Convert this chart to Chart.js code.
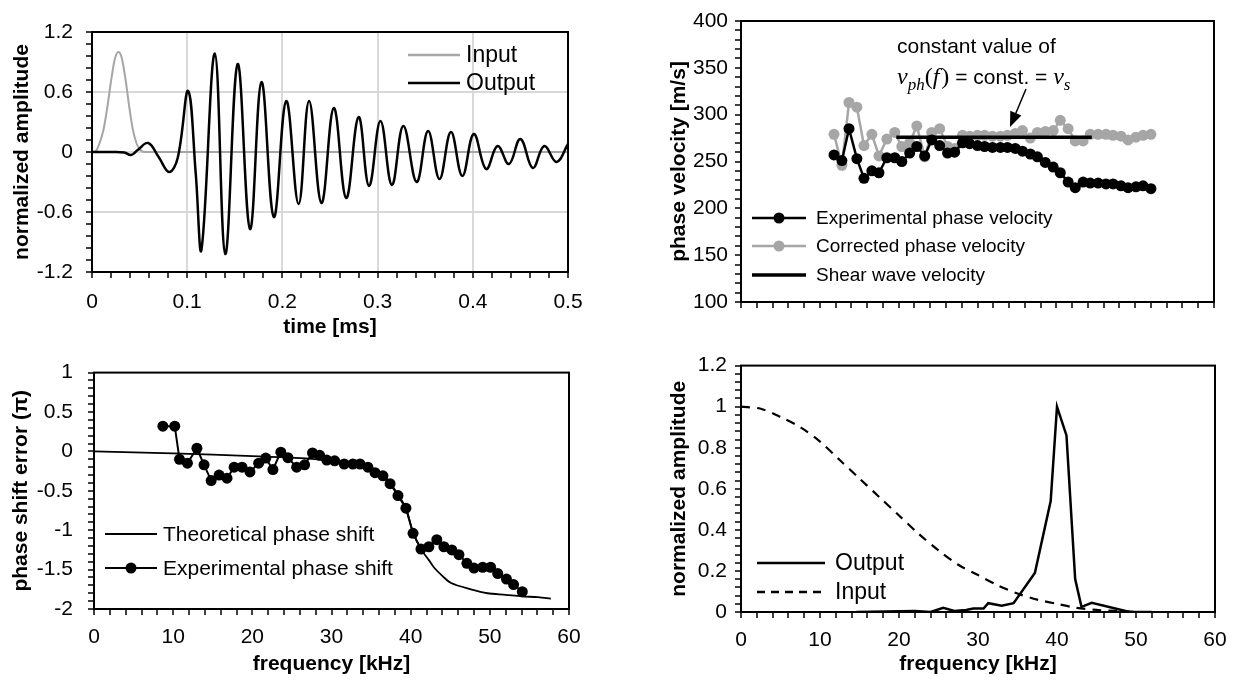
<!DOCTYPE html>
<html>
<head>
<meta charset="UTF-8">
<title>Phase velocity analysis</title>
<style>
  html, body { margin: 0; padding: 0; background: #fff; }
  body { width: 1238px; height: 684px; position: relative; overflow: hidden; }
  canvas { position: absolute; }
</style>
</head>
<body>
<canvas id="c1" width="610" height="345" style="left:0;top:0"></canvas>
<canvas id="c2" width="618" height="345" style="left:620px;top:0"></canvas>
<canvas id="c3" width="610" height="339" style="left:0;top:345px"></canvas>
<canvas id="c4" width="618" height="339" style="left:620px;top:345px"></canvas>

<script src="https://cdn.jsdelivr.net/npm/chart.js@4.4.0/dist/chart.umd.min.js"></script>
<script>
// ---- top left: time signals ----
const timeIn = [0, 0.004, 0.008, 0.012, 0.016, 0.020, 0.024, 0.0275, 0.031, 0.035, 0.039, 0.043, 0.047, 0.051, 0.055, 0.5];
const ampIn = [0, 0.01, 0.09, 0.22, 0.44, 0.71, 0.93, 1.0, 0.95, 0.74, 0.46, 0.22, 0.08, 0.02, 0, 0];
const timeOut = [0, 0.02, 0.034, 0.041, 0.048, 0.059, 0.07, 0.081, 0.09,
  0.101, 0.109, 0.115, 0.129, 0.140, 0.153, 0.166, 0.178, 0.191, 0.204, 0.217, 0.228,
  0.241, 0.254, 0.267, 0.280, 0.291, 0.303, 0.315, 0.327, 0.341, 0.353, 0.365, 0.377,
  0.389, 0.401, 0.414, 0.426, 0.438, 0.450, 0.463, 0.475, 0.488, 0.500];
const ampOut = [0, 0, -0.005, -0.03, 0.02, 0.09, -0.05, -0.20, -0.06,
  0.61, -0.22, -0.975, 0.985, -1.02, 0.88, -0.77, 0.70, -0.65, 0.51, -0.52, 0.51,
  -0.51, 0.44, -0.46, 0.35, -0.34, 0.31, -0.33, 0.26, -0.30, 0.21, -0.27, 0.20,
  -0.24, 0.18, -0.17, 0.06, -0.12, 0.13, -0.16, 0.06, -0.10, 0.08];

// ---- top right: phase velocity ----
const freqVel = [11.8, 12.8, 13.7, 14.7, 15.6, 16.6, 17.5, 18.5, 19.5, 20.4, 21.4, 22.3, 23.3, 24.2,
  25.2, 26.2, 27.1, 28.1, 29.0, 30.0, 30.9, 31.9, 32.9, 33.8, 34.8, 35.7, 36.7, 37.6, 38.6,
  39.6, 40.5, 41.5, 42.4, 43.4, 44.3, 45.3, 46.3, 47.2, 48.2, 49.1, 50.1, 51.0, 52.0];
const velExperimental = [257, 251, 285, 253, 232, 240, 238, 254, 254, 250, 259, 266, 256, 273,
  267, 259, 260, 270, 269, 267, 266, 265, 265, 265, 264, 261, 258, 255, 249,
  244, 238, 228, 222, 228, 227, 227, 226, 226, 224, 222, 223, 224, 221];
const velCorrected = [279, 246, 313, 308, 267, 279, 256, 274, 281, 266, 270, 288, 255, 281,
  285, 266, 264, 278, 277, 278, 278, 277, 277, 278, 280, 283, 275, 281, 282,
  283, 294, 285, 272, 272, 279, 279, 279, 278, 277, 273, 276, 278, 279];
const freqShear = [19.7, 44.5];
const velShear = [276, 276];

// ---- bottom left: phase shift error ----
const freqTheory = [0, 10, 20, 25, 29.5, 31.6, 33.6, 34.6, 35.5, 36.5, 37.4, 38.4, 39.4, 40.3,
  41.3, 42.3, 43.0, 44.0, 45.1, 47.6, 49.7, 52.0, 54.0, 56.1, 57.7];
const phaseTheory = [0, -0.025, -0.06, -0.08, -0.11, -0.15, -0.16, -0.19, -0.26, -0.30, -0.40, -0.55, -0.72, -1.03,
  -1.24, -1.38, -1.48, -1.58, -1.67, -1.75, -1.80, -1.82, -1.84, -1.85, -1.87];
const freqPhaseExp = [8.7, 10.2, 10.8, 11.8, 13.0, 13.9, 14.8, 15.8, 16.8, 17.7, 18.7, 19.7, 20.8, 21.7,
  22.6, 23.6, 24.5, 25.6, 26.6, 27.6, 28.5, 29.4, 30.4, 31.6, 32.7, 33.6, 34.6, 35.5, 36.5,
  37.4, 38.4, 39.4, 40.3, 41.3, 42.3, 43.3, 44.2, 45.2, 46.1, 47.1, 48.0, 49.1, 50.1, 51.0,
  52.1, 53.0, 54.1];
const phaseExp = [0.32, 0.32, -0.10, -0.15, 0.04, -0.17, -0.37, -0.30, -0.34, -0.20, -0.20, -0.26, -0.15, -0.085,
  -0.23, -0.01, -0.08, -0.20, -0.17, -0.02, -0.05, -0.11, -0.12, -0.16, -0.16, -0.16, -0.20, -0.27, -0.31,
  -0.41, -0.56, -0.72, -1.04, -1.24, -1.21, -1.12, -1.21, -1.25, -1.31, -1.42, -1.48, -1.47, -1.47, -1.55,
  -1.62, -1.69, -1.78];

// ---- bottom right: amplitude spectra ----
const freqOutSpec = [14.6, 22.0, 24.0, 25.6, 27.0, 28.5, 29.4, 30.7, 31.3, 33.0, 34.5, 37.2, 39.2, 40.0,
  41.2, 42.3, 43.1, 44.4, 49.2, 52.0];
const ampOutSpec = [0, 0.005, 0, 0.02, 0.005, 0.01, 0.017, 0.017, 0.043, 0.03, 0.043, 0.19, 0.54, 1.0,
  0.86, 0.16, 0.025, 0.045, 0, 0];
const freqInSpec = [0, 2.5, 5, 7.5, 10, 12.5, 15, 17.5, 20, 22.5, 25, 27.5, 30, 32.5, 35, 37.5, 40,
  42.5, 45, 47.5, 50, 52];
const ampInSpec = [1.0, 0.99, 0.95, 0.90, 0.83, 0.74, 0.65, 0.56, 0.47, 0.38, 0.30, 0.23, 0.18, 0.13,
  0.09, 0.06, 0.04, 0.02, 0.01, 0.005, 0, 0];

const FONT = "'Liberation Sans', Arial, sans-serif";
const GREY = '#a6a6a6';

const pts = (xs, ys) => xs.map((x, i) => ({ x: x, y: ys[i] }));

function isMajor(v, step) {
  const r = v / step;
  return Math.abs(r - Math.round(r)) < 1e-6;
}

// linear axis with minor ticks, labels only on the major ones
function makeAxis(c) {
  const horizontal = c.pos === 'bottom';
  return {
    type: 'linear',
    position: c.pos,
    min: c.min,
    max: c.max,
    afterFit(scale) {
      if (horizontal) scale.height = c.size; else scale.width = c.size;
    },
    border: { color: '#000', width: 2 },
    grid: {
      drawOnChartArea: !!c.grid,
      color: ctx => (c.grid && ctx.tick && isMajor(ctx.tick.value, c.major)) ? '#d9d9d9' : 'rgba(0,0,0,0)',
      lineWidth: 2,
      tickLength: 6,
      tickColor: '#000',
      tickWidth: 1.5
    },
    ticks: {
      stepSize: c.minor,
      autoSkip: false,
      maxRotation: 0,
      minRotation: 0,
      padding: c.tickPad,
      color: '#000',
      font: { family: FONT, size: 21 },
      callback: v => (c.noLabels || !isMajor(v, c.major)) ? '' : String(v)
    },
    title: {
      display: !!c.title,
      text: c.title,
      color: '#000',
      font: { family: FONT, size: 21, weight: 'bold' },
      padding: c.titlePad || 0
    }
  };
}

const framePlugin = {
  id: 'frame',
  afterDatasetsDraw(chart) {
    const { ctx, chartArea: a } = chart;
    ctx.save();
    ctx.strokeStyle = '#000';
    ctx.lineWidth = 2;
    ctx.strokeRect(a.left, a.top, a.right - a.left, a.bottom - a.top);
    ctx.restore();
  }
};

// legend drawn inside the plot, items given in page coordinates
function legendPlugin(items, size, offX, offY) {
  return {
    id: 'insideLegend',
    afterDraw(chart) {
      const ctx = chart.ctx;
      ctx.save();
      items.forEach(it => {
        const y = it.y - offY;
        ctx.strokeStyle = it.color;
        ctx.lineWidth = it.lw;
        ctx.setLineDash(it.dash || []);
        ctx.beginPath();
        ctx.moveTo(it.x1 - offX, y);
        ctx.lineTo(it.x2 - offX, y);
        ctx.stroke();
        ctx.setLineDash([]);
        if (it.marker) {
          ctx.fillStyle = it.color;
          ctx.beginPath();
          ctx.arc((it.x1 + it.x2) / 2 - offX, y, it.marker, 0, Math.PI * 2);
          ctx.fill();
        }
        ctx.fillStyle = '#000';
        ctx.font = size + 'px ' + FONT;
        ctx.textBaseline = 'middle';
        ctx.fillText(it.text, it.tx - offX, y + 1);
      });
      ctx.restore();
    }
  };
}

function baseOptions(padding, scales, extra) {
  return {
    type: 'line',
    options: {
      responsive: false,
      animation: false,
      layout: { padding: padding },
      plugins: { legend: { display: false }, tooltip: { enabled: false } },
      scales: scales
    },
    plugins: [framePlugin].concat(extra)
  };
}

// ---------- top left ----------
let cfg1 = baseOptions({ left: 0, top: 32, right: 42, bottom: 3 }, {
  x: makeAxis({ pos: 'bottom', min: 0, max: 0.5, minor: 0.02, major: 0.1, size: 70, tickPad: 12,
    grid: true, title: 'time [ms]', titlePad: { bottom: 2 } }),
  y: makeAxis({ pos: 'left', min: -1.2, max: 1.2, minor: 0.12, major: 0.6, size: 92, tickPad: 13,
    grid: true, title: 'normalized amplitude', titlePad: { top: 10 } })
}, [legendPlugin([
  { x1: 408, x2: 460, y: 55, color: GREY, lw: 2.5, tx: 466, text: 'Input' },
  { x1: 408, x2: 460, y: 83, color: '#000', lw: 2.5, tx: 466, text: 'Output' }
], 23, 0, 0)]);
cfg1.data = {
  datasets: [
    { data: pts(timeOut, ampOut), borderColor: '#000', borderWidth: 2.5, pointRadius: 0, tension: 0.4 },
    { data: pts(timeIn, ampIn), borderColor: GREY, borderWidth: 2, pointRadius: 0, cubicInterpolationMode: 'monotone' }
  ]
};
new Chart(document.getElementById('c1'), cfg1);

// ---------- top right ----------
const annotationPlugin = {
  id: 'annot',
  afterDraw(chart) {
    const ctx = chart.ctx;
    const ox = 620;
    ctx.save();
    ctx.fillStyle = '#000';
    ctx.textBaseline = 'alphabetic';
    ctx.font = '21px ' + FONT;
    ctx.fillText('constant value of', 897 - ox, 53);

    // v_ph(f) = const. = v_s
    let x = 897 - ox;
    const base = 84;
    const serifIt = "italic 24px 'Liberation Serif', serif";
    const serifSub = "italic 17px 'Liberation Serif', serif";
    const serif = "24px 'Liberation Serif', serif";
    const parts = [
      { t: 'v', f: serifIt, dy: 0 },
      { t: 'ph', f: serifSub, dy: 6 },
      { t: '(', f: serif, dy: 0 },
      { t: 'f', f: serifIt, dy: 0 },
      { t: ')', f: serif, dy: 0 },
      { t: ' = const. = ', f: '21px ' + FONT, dy: 0 },
      { t: 'v', f: serifIt, dy: 0 },
      { t: 's', f: serifSub, dy: 6 }
    ];
    parts.forEach(p => {
      ctx.font = p.f;
      ctx.fillText(p.t, x, base + p.dy);
      x += ctx.measureText(p.t).width + (p.t === 'f' ? 2 : 0);
    });

    // arrow
    const x0 = 1026 - ox, y0 = 89, x1 = 1010 - ox, y1 = 127;
    const ang = Math.atan2(y1 - y0, x1 - x0);
    ctx.strokeStyle = '#000';
    ctx.lineWidth = 1.5;
    ctx.beginPath();
    ctx.moveTo(x0, y0);
    ctx.lineTo(x1 - 12 * Math.cos(ang), y1 - 12 * Math.sin(ang));
    ctx.stroke();
    ctx.beginPath();
    ctx.moveTo(x1, y1);
    ctx.lineTo(x1 - 15 * Math.cos(ang) + 6 * Math.sin(ang), y1 - 15 * Math.sin(ang) - 6 * Math.cos(ang));
    ctx.lineTo(x1 - 15 * Math.cos(ang) - 6 * Math.sin(ang), y1 - 15 * Math.sin(ang) + 6 * Math.cos(ang));
    ctx.closePath();
    ctx.fill();
    ctx.restore();
  }
};

let cfg2 = baseOptions({ left: 0, top: 21, right: 24, bottom: 3 }, {
  x: makeAxis({ pos: 'bottom', min: 0, max: 60, minor: 2, major: 10, size: 40, tickPad: 4, noLabels: true }),
  y: makeAxis({ pos: 'left', min: 100, max: 400, minor: 10, major: 50, size: 121, tickPad: 7,
    title: 'phase velocity [m/s]', titlePad: { top: 47 } })
}, [annotationPlugin, legendPlugin([
  { x1: 752, x2: 806, y: 218, color: '#000', lw: 2.5, marker: 5.5, tx: 816, text: 'Experimental phase velocity' },
  { x1: 752, x2: 806, y: 246, color: GREY, lw: 2.5, marker: 5.5, tx: 816, text: 'Corrected phase velocity' },
  { x1: 752, x2: 806, y: 275, color: '#000', lw: 3.5, tx: 816, text: 'Shear wave velocity' }
], 19, 620, 0)]);
cfg2.data = {
  datasets: [
    { data: pts(freqShear, velShear), borderColor: '#000', borderWidth: 3.5, pointRadius: 0 },
    { data: pts(freqVel, velExperimental), borderColor: '#000', backgroundColor: '#000', borderWidth: 2.5,
      pointRadius: 5.5, pointBorderWidth: 0 },
    { data: pts(freqVel, velCorrected), borderColor: GREY, backgroundColor: GREY, borderWidth: 2.5,
      pointRadius: 5.5, pointBorderWidth: 0 }
  ]
};
new Chart(document.getElementById('c2'), cfg2);

// ---------- bottom left ----------
let cfg3 = baseOptions({ left: 0, top: 7, right: 41, bottom: 7 }, {
  x: makeAxis({ pos: 'bottom', min: 0, max: 60, minor: 2, major: 10, size: 68, tickPad: 10,
    title: 'frequency [kHz]', titlePad: { bottom: 0 } }),
  y: makeAxis({ pos: 'left', min: -2, max: 1, minor: 0.1, major: 0.5, size: 94, tickPad: 15,
    title: 'phase shift error (π)', titlePad: { top: 9 } })
}, [legendPlugin([
  { x1: 105, x2: 157, y: 534, color: '#000', lw: 2, tx: 163, text: 'Theoretical phase shift' },
  { x1: 105, x2: 157, y: 568, color: '#000', lw: 2, marker: 5.5, tx: 163, text: 'Experimental phase shift' }
], 21, 0, 345)]);
cfg3.data = {
  datasets: [
    { data: pts(freqPhaseExp, phaseExp), borderColor: '#000', backgroundColor: '#000', borderWidth: 2,
      pointRadius: 5.5, pointBorderWidth: 0 },
    { data: pts(freqTheory, phaseTheory), borderColor: '#000', borderWidth: 1.8, pointRadius: 0, tension: 0.3 }
  ]
};
new Chart(document.getElementById('c3'), cfg3);

// ---------- bottom right ----------
let cfg4 = baseOptions({ left: 0, top: 9, right: 23, bottom: 7 }, {
  x: makeAxis({ pos: 'bottom', min: 0, max: 60, minor: 2, major: 10, size: 65, tickPad: 10,
    title: 'frequency [kHz]', titlePad: { bottom: 0 } }),
  y: makeAxis({ pos: 'left', min: 0, max: 1.2, minor: 0.04, major: 0.2, size: 121, tickPad: 8,
    title: 'normalized amplitude', titlePad: { top: 47 } })
}, [legendPlugin([
  { x1: 757, x2: 825, y: 563, color: '#000', lw: 2.5, tx: 835, text: 'Output' },
  { x1: 757, x2: 825, y: 592, color: '#000', lw: 2.5, dash: [8, 6], tx: 835, text: 'Input' }
], 23, 620, 345)]);
cfg4.data = {
  datasets: [
    { data: pts(freqOutSpec, ampOutSpec), borderColor: '#000', borderWidth: 2.5, pointRadius: 0 },
    { data: pts(freqInSpec, ampInSpec), borderColor: '#000', borderWidth: 2.2, borderDash: [9, 7],
      pointRadius: 0, tension: 0.3 }
  ]
};
new Chart(document.getElementById('c4'), cfg4);
</script>
</body>
</html>
